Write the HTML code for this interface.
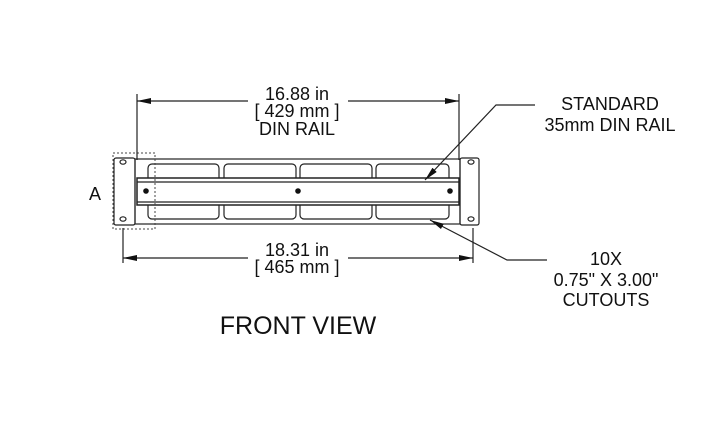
<!DOCTYPE html>
<html><head><meta charset="utf-8"><style>
html,body{margin:0;padding:0;background:#fff;}
svg{display:block;}
text{font-family:"Liberation Sans",Arial,sans-serif;fill:#111;}
</style></head><body>
<svg width="719" height="437" viewBox="0 0 719 437" xmlns="http://www.w3.org/2000/svg">
<defs>
<marker id="ar" markerWidth="14" markerHeight="6" refX="14" refY="3" orient="auto" markerUnits="userSpaceOnUse">
<path d="M0,0 L14,3 L0,6 z" fill="#111"/></marker>
</defs>
<g stroke="#222" fill="none" stroke-width="1.2">
<rect x="114" y="158" width="21" height="67" rx="2"/>
<rect x="460" y="158" width="19" height="67" rx="2"/>
<ellipse cx="123" cy="162" rx="3" ry="2.2"/>
<ellipse cx="123" cy="219" rx="3" ry="2.2"/>
<ellipse cx="471" cy="162" rx="3" ry="2.2"/>
<ellipse cx="471" cy="219" rx="3" ry="2.2"/>
<rect x="135" y="159" width="325" height="65"/>
<rect x="148" y="164" width="71" height="55" rx="4"/>
<rect x="224" y="164" width="72" height="55" rx="4"/>
<rect x="300" y="164" width="72" height="55" rx="4"/>
<rect x="376" y="164" width="73" height="55" rx="4"/>
<rect x="137" y="178" width="322" height="27" fill="#fff" stroke-width="1.5"/>
<line x1="137" y1="182" x2="459" y2="182"/>
<line x1="137" y1="202" x2="459" y2="202"/>
<rect x="113" y="153" width="42" height="76" stroke-dasharray="2,2" stroke="#444" stroke-width="1"/>
<line x1="137" y1="94" x2="137" y2="160"/>
<line x1="459" y1="94" x2="459" y2="160"/>
<line x1="123" y1="228" x2="123" y2="263"/>
<line x1="473" y1="228" x2="473" y2="263"/>
<line x1="248" y1="101" x2="137" y2="101" marker-end="url(#ar)"/>
<line x1="348" y1="101" x2="459" y2="101" marker-end="url(#ar)"/>
<line x1="248" y1="258" x2="123" y2="258" marker-end="url(#ar)"/>
<line x1="348" y1="258" x2="473" y2="258" marker-end="url(#ar)"/>
<polyline points="535,105 496,105 425,180" marker-end="url(#ar)"/>
<polyline points="547,260 507,260 430,220" marker-end="url(#ar)"/>
</g>
<g fill="#111">
<circle cx="146" cy="191" r="2.8"/>
<circle cx="298" cy="191" r="2.8"/>
<circle cx="450" cy="191" r="2.8"/>
</g>
<g font-size="18" text-anchor="middle">
<text x="297" y="100">16.88 in</text>
<text x="297" y="117">[ 429 mm ]</text>
<text x="297" y="135">DIN RAIL</text>
<text x="610" y="110">STANDARD</text>
<text x="610" y="131">35mm DIN RAIL</text>
<text x="297" y="256">18.31 in</text>
<text x="297" y="273">[ 465 mm ]</text>
<text x="606" y="265">10X</text>
<text x="606" y="286">0.75" X 3.00"</text>
<text x="606" y="306">CUTOUTS</text>
<text x="95" y="200">A</text>
<text x="298" y="334" font-size="25">FRONT VIEW</text>
</g>
</svg>
</body></html>
